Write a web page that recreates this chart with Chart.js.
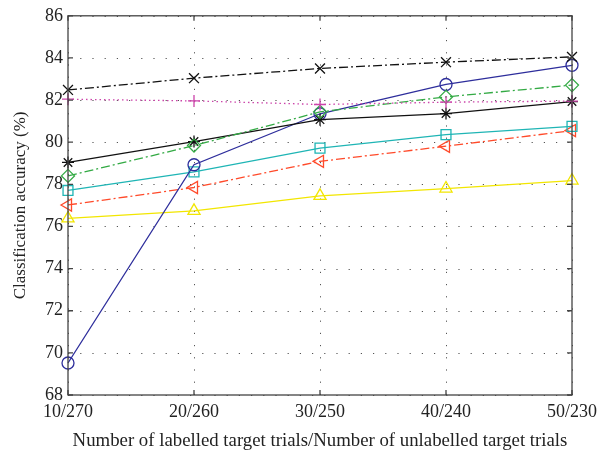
<!DOCTYPE html>
<html>
<head>
<meta charset="utf-8">
<script src="https://cdn.jsdelivr.net/npm/chart.js@4.4.0/dist/chart.umd.min.js"></script>
<style>
  html, body { margin: 0; padding: 0; background: #fff; }
  #wrap { width: 606px; height: 456px; }
</style>
</head>
<body>
<div id="wrap"><canvas id="myChart" width="606" height="456"></canvas></div>
<script>
// data
var categories = ["10/270", "20/260", "30/250", "40/240", "50/230"];
var yTicks = [68, 70, 72, 74, 76, 78, 80, 82, 84, 86];
var crossVals = [82.48, 83.04, 83.50, 83.80, 84.05];
var plusVals = [82.04, 81.96, 81.79, 81.90, 81.95];
var diamondVals = [78.40, 79.84, 81.44, 82.15, 82.71];
var starVals = [79.04, 80.03, 81.07, 81.36, 81.93];
var circleVals = [69.52, 78.93, 81.35, 82.74, 83.65];
var squareVals = [77.71, 78.59, 79.72, 80.36, 80.75];
var leftTriVals = [77.02, 77.85, 79.09, 79.81, 80.55];
var triVals = [76.38, 76.74, 77.45, 77.80, 78.18];

var dashDot = [9, 3, 2, 3];

function series(vals, color, style, radius, dash, rot) {
  return {
    data: vals,
    borderColor: color,
    backgroundColor: 'rgba(0,0,0,0)',
    pointBorderColor: color,
    pointBackgroundColor: 'rgba(0,0,0,0)',
    pointStyle: style,
    pointRadius: radius,
    pointBorderWidth: 1.3,
    pointRotation: rot || 0,
    borderWidth: 1.3,
    borderDash: dash || [],
    tension: 0,
    clip: false
  };
}

// box, dotted grid and inward ticks
var boxPlugin = {
  id: 'box',
  beforeDatasetsDraw: function(chart) {
    var ctx = chart.ctx, a = chart.chartArea;
    var xs = chart.scales.x, ys = chart.scales.y;
    ctx.save();
    ctx.strokeStyle = '#555';
    ctx.lineWidth = 1;
    ctx.setLineDash([1.2, 11]);
    for (var i = 0; i < categories.length; i++) {
      var px = Math.round(xs.getPixelForTick(i)) + 0.5;
      ctx.beginPath(); ctx.moveTo(px, a.bottom); ctx.lineTo(px, a.top); ctx.stroke();
    }
    yTicks.forEach(function(v) {
      var py = Math.round(ys.getPixelForValue(v)) + 0.5;
      ctx.beginPath(); ctx.moveTo(a.left, py); ctx.lineTo(a.right, py); ctx.stroke();
    });
    ctx.restore();
  },
  afterDatasetsDraw: function(chart) {
    var ctx = chart.ctx, a = chart.chartArea;
    var xs = chart.scales.x, ys = chart.scales.y;
    ctx.save();
    ctx.strokeStyle = '#444';
    ctx.lineWidth = 1.3;
    ctx.strokeRect(a.left, a.top, a.right - a.left, a.bottom - a.top);
    var t = 5;
    for (var i = 0; i < categories.length; i++) {
      var px = xs.getPixelForTick(i);
      ctx.beginPath();
      ctx.moveTo(px, a.bottom); ctx.lineTo(px, a.bottom - t);
      ctx.moveTo(px, a.top); ctx.lineTo(px, a.top + t);
      ctx.stroke();
    }
    yTicks.forEach(function(v) {
      var py = ys.getPixelForValue(v);
      ctx.beginPath();
      ctx.moveTo(a.left, py); ctx.lineTo(a.left + t, py);
      ctx.moveTo(a.right, py); ctx.lineTo(a.right - t, py);
      ctx.stroke();
    });
    ctx.restore();
  }
};

var serif = "'Liberation Serif', 'DejaVu Serif', serif";

new Chart("myChart", {
  type: "line",
  data: {
    labels: categories,
    datasets: [
      series(crossVals, '#111111', 'crossRot', 7, dashDot),
      series(plusVals, '#cc44aa', 'cross', 6, [1.5, 3]),
      series(diamondVals, '#33aa44', 'rectRot', 6.5, dashDot),
      series(starVals, '#111111', 'star', 6),
      series(circleVals, '#2e2e9c', 'circle', 6),
      series(squareVals, '#1fb5b5', 'rect', 7),
      series(leftTriVals, '#ff4a2a', 'triangle', 7, dashDot, -90),
      series(triVals, '#f2e600', 'triangle', 7)
    ]
  },
  plugins: [boxPlugin],
  options: {
    responsive: false,
    animation: false,
    layout: { padding: { left: 0, top: 12, right: 34, bottom: 0 } },
    plugins: { legend: { display: false }, tooltip: { enabled: false } },
    scales: {
      x: {
        type: 'category',
        offset: false,
        grid: { display: false, drawTicks: false },
        border: { display: false },
        ticks: { color: '#222', font: { family: serif, size: 18 }, padding: 6, maxRotation: 0 },
        title: { display: true, text: 'Number of labelled target trials/Number of unlabelled target trials',
                 color: '#222', font: { family: serif, size: 18.8 }, padding: { top: 6, bottom: 4 } },
        afterFit: function(s) { s.height = 61; }
      },
      y: {
        min: 68,
        max: 86,
        grid: { display: false, drawTicks: false },
        border: { display: false },
        afterBuildTicks: function(s) { s.ticks = yTicks.map(function(v) { return { value: v }; }); },
        ticks: { color: '#222', font: { family: serif, size: 18 }, padding: 5 },
        title: { display: true, text: 'Classification accuracy (%)',
                 color: '#222', font: { family: serif, size: 17 }, padding: { top: 10, bottom: 0 } },
        afterFit: function(s) { s.width = 68; }
      }
    }
  }
});
</script>
</body>
</html>
